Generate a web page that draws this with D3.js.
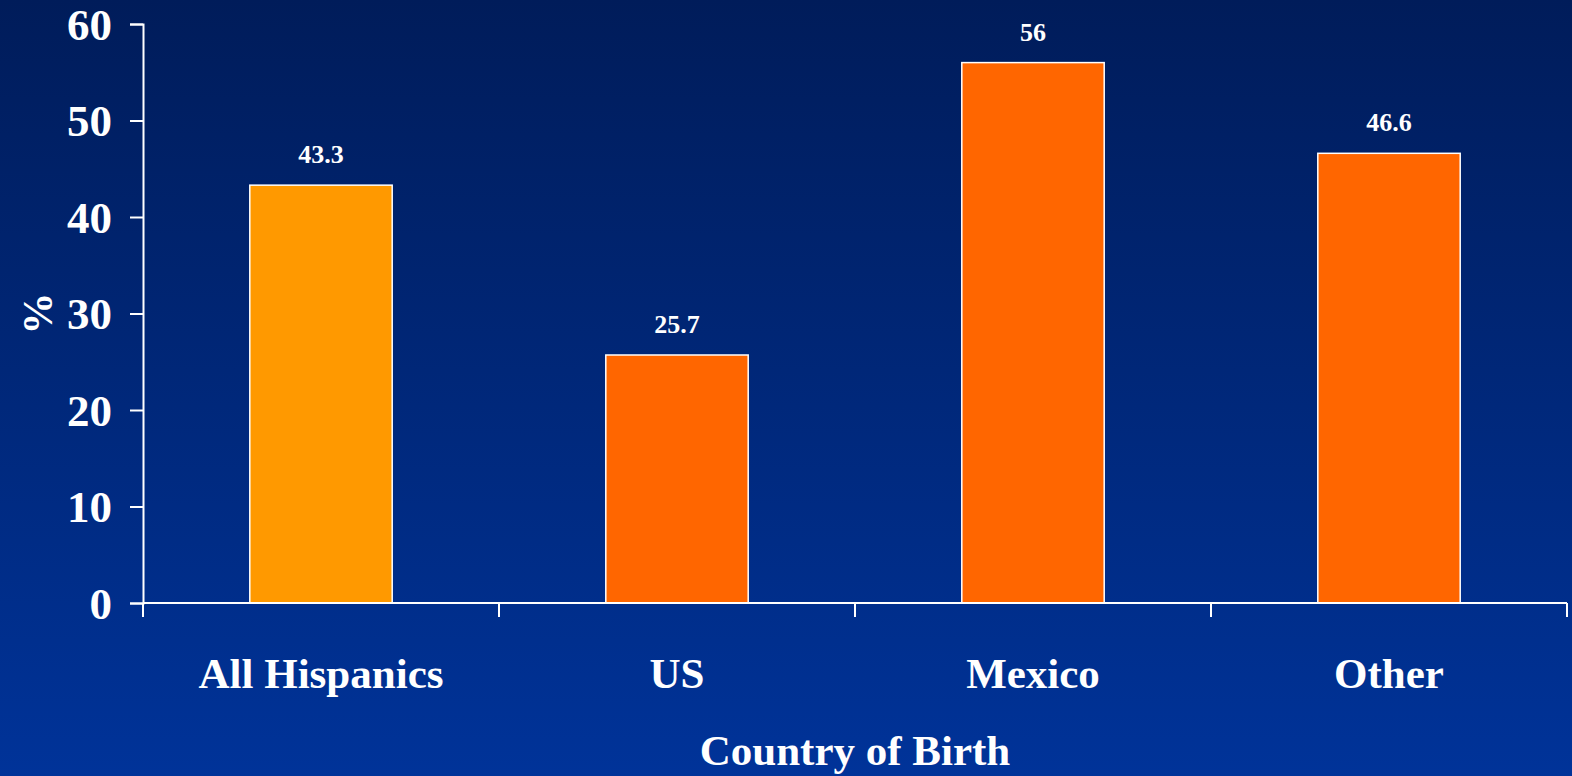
<!DOCTYPE html>
<html>
<head>
<meta charset="utf-8">
<script src="https://cdn.jsdelivr.net/npm/d3@7"></script>
<style>
  html, body { margin: 0; padding: 0; background: #002a7a; }
  svg { display: block; }
  text { font-family: "Liberation Serif", "Times New Roman", serif; font-weight: bold; fill: #fff; }
</style>
</head>
<body>
<svg></svg>
<script>
var width = 1572;
var height = 776;

var categories = ['All Hispanics', 'US', 'Mexico', 'Other'];
var values = [43.3, 25.7, 56, 46.6];
var barColors = ['#ff9900', '#ff6600', '#ff6600', '#ff6600'];
var yTicks = [0, 10, 20, 30, 40, 50, 60];

var mLeft = 143, mRight = 1567, mTop = 24, mBottom = 603;

var svg = d3.select('svg')
    .attr('width', width)
    .attr('height', height);

var grad = svg.append('defs')
  .append('linearGradient')
    .attr('id', 'bg')
    .attr('x1', 0).attr('y1', 0)
    .attr('x2', 0).attr('y2', 1);
grad.append('stop').attr('offset', '0%').attr('stop-color', '#001c5a');
grad.append('stop').attr('offset', '100%').attr('stop-color', '#003399');

svg.append('rect')
    .attr('width', width)
    .attr('height', height)
    .attr('fill', 'url(#bg)');

var x = d3.scaleBand()
    .domain(categories)
    .range([mLeft, mRight])
    .paddingInner(0.6)
    .paddingOuter(0.3);

var xOuter = d3.scaleBand()
    .domain(categories)
    .range([mLeft, mRight]);

var y = d3.scaleLinear()
    .domain([0, 60])
    .range([mBottom, mTop]);

// bars
svg.selectAll('.bar')
  .data(values)
  .enter()
    .append('rect')
    .classed('bar', true)
    .attr('x', (d, i) => x(categories[i]))
    .attr('width', x.bandwidth())
    .attr('y', d => y(d))
    .attr('height', d => y(0) - y(d))
    .attr('fill', (d, i) => barColors[i])
    .attr('stroke', '#fff')
    .attr('stroke-width', 1.5);

// value labels
svg.selectAll('.val')
  .data(values)
  .enter()
    .append('text')
    .classed('val', true)
    .attr('x', (d, i) => x(categories[i]) + x.bandwidth() / 2)
    .attr('y', d => y(d) - 22)
    .attr('text-anchor', 'middle')
    .style('font-size', '26px')
    .text(d => d);

// y axis
var yAxis = svg.append('g')
    .attr('transform', 'translate(' + mLeft + ',0)')
    .call(d3.axisLeft(y).tickValues(yTicks).tickSize(13).tickPadding(18));
yAxis.select('.domain').attr('stroke', '#fff').attr('stroke-width', 2);
yAxis.selectAll('.tick line').attr('stroke', '#fff').attr('stroke-width', 2);
yAxis.selectAll('.tick text')
    .attr('fill', '#fff')
    .style('font-size', '45px')
    .attr('dy', '0.34em');

// x axis
var xAxis = svg.append('g')
    .attr('transform', 'translate(0,' + mBottom + ')');
xAxis.append('line')
    .attr('x1', mLeft).attr('x2', mRight)
    .attr('stroke', '#fff').attr('stroke-width', 2);
xAxis.selectAll('.xtick')
  .data(categories.concat(['end']))
  .enter()
    .append('line')
    .classed('xtick', true)
    .attr('x1', (d, i) => i < categories.length ? xOuter(d) : mRight)
    .attr('x2', (d, i) => i < categories.length ? xOuter(d) : mRight)
    .attr('y1', 0).attr('y2', 14)
    .attr('stroke', '#fff').attr('stroke-width', 2);
xAxis.selectAll('.xlabel')
  .data(categories)
  .enter()
    .append('text')
    .classed('xlabel', true)
    .attr('x', d => x(d) + x.bandwidth() / 2)
    .attr('y', 85)
    .attr('text-anchor', 'middle')
    .style('font-size', '43px')
    .text(d => d);

// axis titles
svg.append('text')
    .attr('x', (mLeft + mRight) / 2)
    .attr('y', 765)
    .attr('text-anchor', 'middle')
    .style('font-size', '43px')
    .text('Country of Birth');

svg.append('text')
    .attr('transform', 'translate(52,' + ((mTop + mBottom) / 2) + ') rotate(-90)')
    .attr('text-anchor', 'middle')
    .style('font-size', '42px')
    .text('%');
</script>
</body>
</html>
